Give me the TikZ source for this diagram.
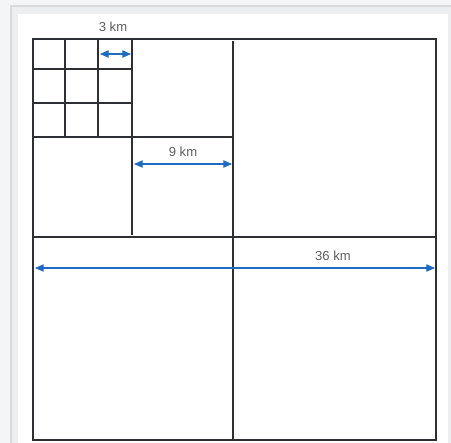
\documentclass[tikz,border=0pt]{standalone}
\usepackage{fontspec}
\setmainfont{Liberation Sans}
\usetikzlibrary{arrows.meta}
\definecolor{pagebg}{HTML}{F4F5F7}
\definecolor{panelline}{HTML}{D9DADC}
\definecolor{panelband}{HTML}{EDEEEF}
\definecolor{gridline}{HTML}{2E2F33}
\definecolor{dimblue}{HTML}{1F6BC4}
\definecolor{labelgray}{HTML}{5E5E5E}
\tikzset{
  gridln/.style={draw=gridline, line width=1.4pt},
  dimarrow/.style={draw=dimblue, line width=0.8pt, {Triangle[length=6.5pt,width=5.5pt]}-{Triangle[length=6.5pt,width=5.5pt]}},
  dimlabel/.style={text=labelgray, font=\fontsize{9.8}{11}\selectfont, inner sep=0pt},
}
\begin{document}
\begin{tikzpicture}[x=0.75pt,y=-0.75pt]
\useasboundingbox (0,0) rectangle (451,443);
\fill[pagebg] (0,0) rectangle (451,443);
\filldraw[fill=panelband, draw=panelline, line width=1.5pt] (11,5.5) rectangle (455,450);
\filldraw[fill=white, draw=panelband, line width=0.8pt] (17,13) rectangle (449,450);

% coordinates
\coordinate (TL) at (33,39);
\coordinate (BR) at (436,440);
\coordinate (v1t) at (65,39);   \coordinate (v1b) at (65,137);
\coordinate (v2t) at (98,39);   \coordinate (v2b) at (98,137);
\coordinate (h1l) at (33,69);   \coordinate (h1r) at (132,69);
\coordinate (h2l) at (33,103);  \coordinate (h2r) at (132,103);
\coordinate (v3t) at (132,39);  \coordinate (v3b) at (132,235);
\coordinate (h3l) at (33,137);  \coordinate (h3r) at (233,137);
\coordinate (v4t) at (233,41);  \coordinate (v4b) at (233,440);
\coordinate (h4l) at (33,237);  \coordinate (h4r) at (436,237);

\draw[gridln] (TL) rectangle (BR);
\draw[gridln] (v1t) -- (v1b);
\draw[gridln] (v2t) -- (v2b);
\draw[gridln] (h1l) -- (h1r);
\draw[gridln] (h2l) -- (h2r);
\draw[gridln] (v3t) -- (v3b);
\draw[gridln] (h3l) -- (h3r);
\draw[gridln] (v4t) -- (v4b);
\draw[gridln] (h4l) -- (h4r);

% dimension arrows
\coordinate (a3l) at (100,54);  \coordinate (a3r) at (131,54);
\coordinate (a9l) at (134,164); \coordinate (a9r) at (232,164);
\coordinate (a36l) at (35,268); \coordinate (a36r) at (435,268);
\draw[dimarrow] (a3l) -- (a3r);
\draw[dimarrow] (a9l) -- (a9r);
\draw[dimarrow] (a36l) -- (a36r);

\node[dimlabel] (l3) at (113,27) {3 km};
\node[dimlabel] (l9) at (183,152) {9 km};
\node[dimlabel] (l36) at (333,256) {36 km};
\end{tikzpicture}
\end{document}
